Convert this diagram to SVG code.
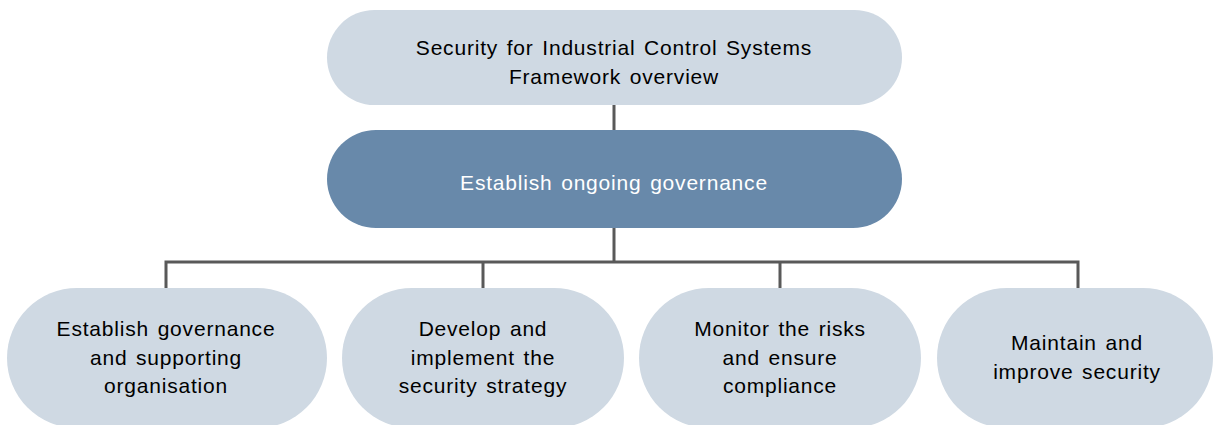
<svg xmlns="http://www.w3.org/2000/svg" width="1214" height="425" viewBox="0 0 1214 425">
  <style>
    .light { fill: #cfd9e3; }
    .dark { fill: #6889aa; }
    .wire { stroke: #595959; stroke-width: 3; fill: none; }
    text { font-family: "Liberation Sans", Arial, sans-serif; font-size: 21px; letter-spacing: 0.8px; word-spacing: 2px; text-anchor: middle; fill: #000000; }
    .inv { fill: #ffffff; }
  </style>
  <rect width="1214" height="425" fill="#ffffff"/>

  <g id="connectors">
    <line class="wire" x1="614" y1="104" x2="614" y2="132"/>
    <line class="wire" x1="614" y1="226" x2="614" y2="262"/>
    <polyline class="wire" points="166,290 166,262 1078,262 1078,290"/>
    <line class="wire" x1="483" y1="262" x2="483" y2="290"/>
    <line class="wire" x1="780" y1="262" x2="780" y2="290"/>
  </g>

  <g id="framework-overview">
    <rect class="light" x="327" y="10" width="575" height="95" rx="47.5"/>
    <text x="614" y="55">Security for Industrial Control Systems</text>
    <text x="614" y="84">Framework overview</text>
  </g>

  <g id="ongoing-governance">
    <rect class="dark" x="327" y="130" width="575" height="98" rx="49"/>
    <text class="inv" x="614" y="190">Establish ongoing governance</text>
  </g>

  <g id="governance-organisation">
    <rect class="light" x="7" y="288" width="320" height="140" rx="70"/>
    <text x="166" y="336">Establish governance</text>
    <text x="166" y="365">and supporting</text>
    <text x="166" y="393">organisation</text>
  </g>

  <g id="security-strategy">
    <rect class="light" x="342" y="288" width="282" height="140" rx="70"/>
    <text x="483" y="336">Develop and</text>
    <text x="483" y="365">implement the</text>
    <text x="483" y="393">security strategy</text>
  </g>

  <g id="risks-compliance">
    <rect class="light" x="639" y="288" width="282" height="140" rx="70"/>
    <text x="780" y="336">Monitor the risks</text>
    <text x="780" y="365">and ensure</text>
    <text x="780" y="393">compliance</text>
  </g>

  <g id="improve-security">
    <rect class="light" x="937" y="288" width="276" height="140" rx="70"/>
    <text x="1077" y="350">Maintain and</text>
    <text x="1077" y="379">improve security</text>
  </g>
</svg>
